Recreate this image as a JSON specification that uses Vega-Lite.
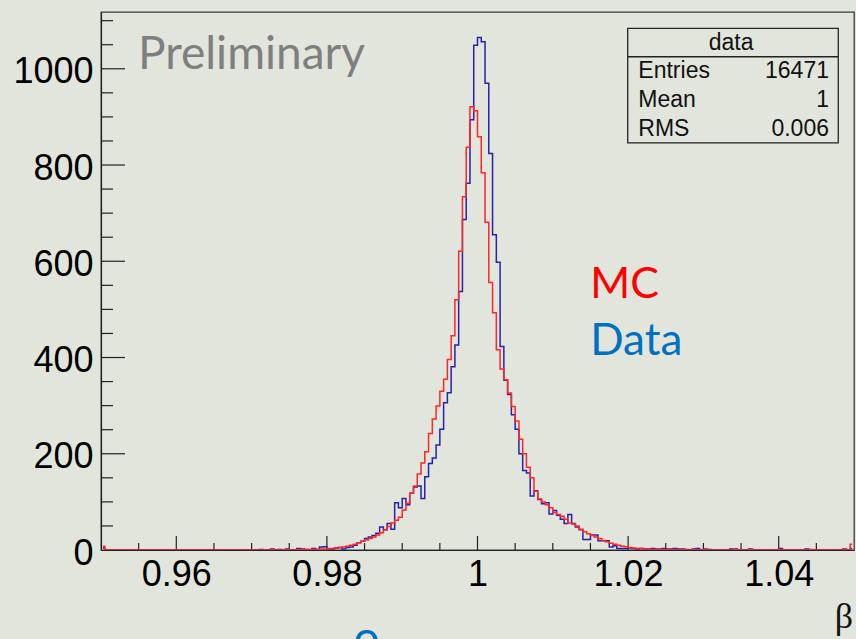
{
  "$schema": "https://vega.github.io/schema/vega-lite/v6.json",
  "width": 753,
  "height": 538,
  "autosize": {"type": "none"},
  "padding": {"left": 101, "top": 12, "right": 2, "bottom": 89},
  "background": "#e2e5dc",
  "config": {"view": {"stroke": "#3a3a3a", "strokeWidth": 1.3}, "font": "Liberation Sans"},
  "datasets": {
    "h": [
      {"b":0.95025,"Data":4,"MC":8},{"b":0.95075,"Data":0,"MC":0},{"b":0.95125,"Data":0,"MC":0},{"b":0.95175,"Data":0,"MC":0},{"b":0.95225,"Data":0,"MC":0},
      {"b":0.95275,"Data":0,"MC":0},{"b":0.95325,"Data":0,"MC":0},{"b":0.95375,"Data":0,"MC":0},{"b":0.95425,"Data":0,"MC":0},{"b":0.95475,"Data":0,"MC":0},
      {"b":0.95525,"Data":0,"MC":0},{"b":0.95575,"Data":0,"MC":0},{"b":0.95625,"Data":0,"MC":0},{"b":0.95675,"Data":0,"MC":0},{"b":0.95725,"Data":0,"MC":0},
      {"b":0.95775,"Data":0,"MC":0},{"b":0.95825,"Data":0,"MC":0},{"b":0.95875,"Data":0,"MC":0},{"b":0.95925,"Data":0,"MC":0},{"b":0.95975,"Data":0,"MC":0},
      {"b":0.96025,"Data":0,"MC":0},{"b":0.96075,"Data":0,"MC":0},{"b":0.96125,"Data":0,"MC":0},{"b":0.96175,"Data":0,"MC":0},{"b":0.96225,"Data":0,"MC":0},
      {"b":0.96275,"Data":0,"MC":0},{"b":0.96325,"Data":0,"MC":0},{"b":0.96375,"Data":0,"MC":0},{"b":0.96425,"Data":0,"MC":0},{"b":0.96475,"Data":0,"MC":0},
      {"b":0.96525,"Data":0,"MC":0},{"b":0.96575,"Data":0,"MC":0},{"b":0.96625,"Data":0,"MC":0},{"b":0.96675,"Data":0,"MC":0},{"b":0.96725,"Data":0,"MC":0},
      {"b":0.96775,"Data":0,"MC":0},{"b":0.96825,"Data":0,"MC":0},{"b":0.96875,"Data":0,"MC":0},{"b":0.96925,"Data":0,"MC":0},{"b":0.96975,"Data":0,"MC":0},
      {"b":0.97025,"Data":0,"MC":0},{"b":0.97075,"Data":0,"MC":0},{"b":0.97125,"Data":1,"MC":0},{"b":0.97175,"Data":0,"MC":0},{"b":0.97225,"Data":0,"MC":0},
      {"b":0.97275,"Data":2,"MC":1},{"b":0.97325,"Data":0,"MC":0},{"b":0.97375,"Data":1,"MC":0},{"b":0.97425,"Data":0,"MC":0},{"b":0.97475,"Data":2,"MC":1},
      {"b":0.97525,"Data":0,"MC":0},{"b":0.97575,"Data":0,"MC":0},{"b":0.97625,"Data":3,"MC":1},{"b":0.97675,"Data":2,"MC":1},{"b":0.97725,"Data":1,"MC":1},
      {"b":0.97775,"Data":0,"MC":1},{"b":0.97825,"Data":3,"MC":1},{"b":0.97875,"Data":1,"MC":1},{"b":0.97925,"Data":6,"MC":2},{"b":0.97975,"Data":7,"MC":2},
      {"b":0.98025,"Data":2,"MC":3},{"b":0.98075,"Data":2,"MC":3},{"b":0.98125,"Data":4,"MC":4},{"b":0.98175,"Data":5,"MC":5},{"b":0.98225,"Data":2,"MC":6},
      {"b":0.98275,"Data":5,"MC":8},{"b":0.98325,"Data":6,"MC":10},{"b":0.98375,"Data":10,"MC":12},{"b":0.98425,"Data":15,"MC":15},{"b":0.98475,"Data":18,"MC":18},
      {"b":0.98525,"Data":24,"MC":21},{"b":0.98575,"Data":27,"MC":24},{"b":0.98625,"Data":30,"MC":27},{"b":0.98675,"Data":35,"MC":31},{"b":0.98725,"Data":48,"MC":36},
      {"b":0.98775,"Data":42,"MC":42},{"b":0.98825,"Data":55,"MC":49},{"b":0.98875,"Data":43,"MC":56},{"b":0.98925,"Data":98,"MC":62},{"b":0.98975,"Data":88,"MC":68},
      {"b":0.99025,"Data":107,"MC":83},{"b":0.99075,"Data":94,"MC":97},{"b":0.99125,"Data":118,"MC":118},{"b":0.99175,"Data":131,"MC":133},{"b":0.99225,"Data":133,"MC":158},
      {"b":0.99275,"Data":107,"MC":181},{"b":0.99325,"Data":152,"MC":204},{"b":0.99375,"Data":180,"MC":242},{"b":0.99425,"Data":191,"MC":272},{"b":0.99475,"Data":218,"MC":299},
      {"b":0.99525,"Data":251,"MC":330},{"b":0.99575,"Data":306,"MC":355},{"b":0.99625,"Data":327,"MC":396},{"b":0.99675,"Data":381,"MC":445},{"b":0.99725,"Data":426,"MC":520},
      {"b":0.99775,"Data":537,"MC":621},{"b":0.99825,"Data":687,"MC":734},{"b":0.99875,"Data":762,"MC":837},{"b":0.99925,"Data":894,"MC":921},{"b":0.99975,"Data":1049,"MC":913},
      {"b":1.00025,"Data":1065,"MC":859},{"b":1.00075,"Data":1056,"MC":784},{"b":1.00125,"Data":970,"MC":681},{"b":1.00175,"Data":824,"MC":556},{"b":1.00225,"Data":655,"MC":493},
      {"b":1.00275,"Data":598,"MC":416},{"b":1.00325,"Data":423,"MC":376},{"b":1.00375,"Data":353,"MC":354},{"b":1.00425,"Data":323,"MC":326},{"b":1.00475,"Data":281,"MC":298},
      {"b":1.00525,"Data":251,"MC":268},{"b":1.00575,"Data":200,"MC":230},{"b":1.00625,"Data":165,"MC":200},{"b":1.00675,"Data":160,"MC":172},{"b":1.00725,"Data":112,"MC":150},
      {"b":1.00775,"Data":123,"MC":122},{"b":1.00825,"Data":105,"MC":106},{"b":1.00875,"Data":96,"MC":100},{"b":1.00925,"Data":98,"MC":94},{"b":1.00975,"Data":75,"MC":88},
      {"b":1.01025,"Data":82,"MC":78},{"b":1.01075,"Data":72,"MC":74},{"b":1.01125,"Data":64,"MC":70},{"b":1.01175,"Data":55,"MC":64},{"b":1.01225,"Data":74,"MC":56},
      {"b":1.01275,"Data":55,"MC":54},{"b":1.01325,"Data":48,"MC":50},{"b":1.01375,"Data":42,"MC":43},{"b":1.01425,"Data":22,"MC":38},{"b":1.01475,"Data":22,"MC":34},
      {"b":1.01525,"Data":31,"MC":30},{"b":1.01575,"Data":31,"MC":27},{"b":1.01625,"Data":19,"MC":24},{"b":1.01675,"Data":19,"MC":20},{"b":1.01725,"Data":19,"MC":17},
      {"b":1.01775,"Data":6,"MC":14},{"b":1.01825,"Data":9,"MC":12},{"b":1.01875,"Data":3,"MC":10},{"b":1.01925,"Data":3,"MC":8},{"b":1.01975,"Data":3,"MC":7},
      {"b":1.02025,"Data":4,"MC":5},{"b":1.02075,"Data":3,"MC":4},{"b":1.02125,"Data":2,"MC":3},{"b":1.02175,"Data":3,"MC":3},{"b":1.02225,"Data":2,"MC":2},
      {"b":1.02275,"Data":2,"MC":2},{"b":1.02325,"Data":3,"MC":1},{"b":1.02375,"Data":2,"MC":1},{"b":1.02425,"Data":2,"MC":1},{"b":1.02475,"Data":3,"MC":1},
      {"b":1.02525,"Data":2,"MC":1},{"b":1.02575,"Data":2,"MC":0},{"b":1.02625,"Data":3,"MC":1},{"b":1.02675,"Data":2,"MC":0},{"b":1.02725,"Data":2,"MC":1},
      {"b":1.02775,"Data":1,"MC":0},{"b":1.02825,"Data":0,"MC":0},{"b":1.02875,"Data":2,"MC":1},{"b":1.02925,"Data":3,"MC":0},{"b":1.02975,"Data":0,"MC":0},
      {"b":1.03025,"Data":2,"MC":1},{"b":1.03075,"Data":1,"MC":0},{"b":1.03125,"Data":0,"MC":0},{"b":1.03175,"Data":0,"MC":0},{"b":1.03225,"Data":0,"MC":0},
      {"b":1.03275,"Data":0,"MC":0},{"b":1.03325,"Data":0,"MC":0},{"b":1.03375,"Data":2,"MC":0},{"b":1.03425,"Data":2,"MC":1},{"b":1.03475,"Data":0,"MC":0},
      {"b":1.03525,"Data":0,"MC":0},{"b":1.03575,"Data":0,"MC":0},{"b":1.03625,"Data":2,"MC":1},{"b":1.03675,"Data":0,"MC":0},{"b":1.03725,"Data":0,"MC":0},
      {"b":1.03775,"Data":0,"MC":0},{"b":1.03825,"Data":0,"MC":0},{"b":1.03875,"Data":0,"MC":0},{"b":1.03925,"Data":0,"MC":0},{"b":1.03975,"Data":0,"MC":0},
      {"b":1.04025,"Data":3,"MC":1},{"b":1.04075,"Data":0,"MC":0},{"b":1.04125,"Data":0,"MC":0},{"b":1.04175,"Data":0,"MC":0},{"b":1.04225,"Data":0,"MC":0},
      {"b":1.04275,"Data":0,"MC":0},{"b":1.04325,"Data":0,"MC":0},{"b":1.04375,"Data":2,"MC":0},{"b":1.04425,"Data":0,"MC":1},{"b":1.04475,"Data":0,"MC":0},
      {"b":1.04525,"Data":0,"MC":0},{"b":1.04575,"Data":0,"MC":0},{"b":1.04625,"Data":0,"MC":0},{"b":1.04675,"Data":0,"MC":0},{"b":1.04725,"Data":0,"MC":0},
      {"b":1.04775,"Data":0,"MC":0},{"b":1.04825,"Data":0,"MC":0},{"b":1.04875,"Data":2,"MC":1},{"b":1.04925,"Data":0,"MC":0},{"b":1.04975,"Data":3,"MC":12}
    ],
    "ymaj": [{"v":200},{"v":400},{"v":600},{"v":800},{"v":1000}],
    "ymin": [{"v":50},{"v":100},{"v":150},{"v":250},{"v":300},{"v":350},{"v":450},{"v":500},{"v":550},{"v":650},{"v":700},{"v":750},{"v":850},{"v":900},{"v":950},{"v":1050},{"v":1100}],
    "xmaj": [{"v":0.96},{"v":0.98},{"v":1},{"v":1.02},{"v":1.04}],
    "xmin": [{"v":0.955},{"v":0.965},{"v":0.97},{"v":0.975},{"v":0.985},{"v":0.99},{"v":0.995},{"v":1.005},{"v":1.01},{"v":1.015},{"v":1.025},{"v":1.03},{"v":1.035},{"v":1.045}]
  },
  "layer": [
    {
      "data": {"name": "ymaj"},
      "mark": {"type": "rule", "stroke": "#222", "strokeWidth": 1.2},
      "encoding": {"y": {"field": "v", "type": "quantitative"}, "x": {"datum": 0.95}, "x2": {"datum": 0.953187}}
    },
    {
      "data": {"name": "ymin"},
      "mark": {"type": "rule", "stroke": "#222", "strokeWidth": 1.2},
      "encoding": {"y": {"field": "v", "type": "quantitative"}, "x": {"datum": 0.95}, "x2": {"datum": 0.951594}}
    },
    {
      "data": {"name": "xmaj"},
      "mark": {"type": "rule", "stroke": "#222", "strokeWidth": 1.2},
      "encoding": {"x": {"field": "v", "type": "quantitative"}, "y": {"datum": 0}, "y2": {"datum": 29}}
    },
    {
      "data": {"name": "xmin"},
      "mark": {"type": "rule", "stroke": "#222", "strokeWidth": 1.2},
      "encoding": {"x": {"field": "v", "type": "quantitative"}, "y": {"datum": 0}, "y2": {"datum": 14.5}}
    },
    {
      "data": {"name": "h"},
      "mark": {"type": "line", "interpolate": "step", "stroke": "#2323b0", "strokeWidth": 1.5, "clip": true},
      "encoding": {
        "x": {"field": "b", "type": "quantitative", "scale": {"domain": [0.95, 1.05], "nice": false, "zero": false},
              "axis": {"orient": "bottom", "values": [0.96, 0.98, 1, 1.02, 1.04], "format": "~g", "ticks": false, "labelPadding": 7,
                       "labelFontSize": 36, "labelFont": "Liberation Sans", "labelColor": "#000", "domainColor": "#222", "domainWidth": 1.2,
                       "grid": false, "title": null, "labelFlush": false, "labelOverlap": false, "labelBound": false}},
        "y": {"field": "Data", "type": "quantitative", "scale": {"domain": [0, 1118], "nice": false, "zero": false},
              "axis": {"orient": "left", "values": [0, 200, 400, 600, 800, 1000], "format": "d", "ticks": false, "labelPadding": 8, "labelOffset": 3,
                       "labelFontSize": 36, "labelFont": "Liberation Sans", "labelColor": "#000", "domainColor": "#222", "domainWidth": 1.2,
                       "grid": false, "title": null, "labelFlush": false, "labelOverlap": false, "labelBound": false}}
      }
    },
    {
      "data": {"name": "h"},
      "mark": {"type": "line", "interpolate": "step", "stroke": "#ff2626", "strokeWidth": 1.5, "clip": true},
      "encoding": {
        "x": {"field": "b", "type": "quantitative"},
        "y": {"field": "MC", "type": "quantitative"}
      }
    },
    {
      "data": {"values": [{}]},
      "mark": {"type": "text", "text": "Preliminary", "font": "Lato", "fontSize": 46, "color": "#7f7f7f", "align": "left", "baseline": "alphabetic"},
      "encoding": {"x": {"datum": 0.95491}, "y": {"datum": 999}}
    },
    {
      "data": {"values": [{}]},
      "mark": {"type": "text", "text": "MC", "font": "Lato", "fontSize": 43, "color": "#ff0000", "align": "left", "baseline": "alphabetic"},
      "encoding": {"x": {"datum": 1.01497}, "y": {"datum": 524}}
    },
    {
      "data": {"values": [{}]},
      "mark": {"type": "text", "text": "Data", "font": "Lato", "fontSize": 44, "color": "#0070c0", "align": "left", "baseline": "alphabetic"},
      "encoding": {"x": {"datum": 1.01497}, "y": {"datum": 405}}
    },
    {
      "data": {"values": [{}]},
      "mark": {"type": "rect", "fillOpacity": 0, "stroke": "#222", "strokeWidth": 1.3},
      "encoding": {"x": {"datum": 1.01995}, "x2": {"datum": 1.04791}, "y": {"datum": 1084}, "y2": {"datum": 846}}
    },
    {
      "data": {"values": [{}]},
      "mark": {"type": "rule", "stroke": "#222", "strokeWidth": 1.3},
      "encoding": {"x": {"datum": 1.01995}, "x2": {"datum": 1.04791}, "y": {"datum": 1025}}
    },
    {
      "data": {"values": [{}]},
      "mark": {"type": "text", "text": "data", "font": "Liberation Sans", "fontSize": 23, "color": "#111", "align": "center", "baseline": "alphabetic"},
      "encoding": {"x": {"datum": 1.03367}, "y": {"datum": 1039}}
    },
    {
      "data": {"values": [{}]},
      "mark": {"type": "text", "text": "Entries", "font": "Liberation Sans", "fontSize": 23, "color": "#111", "align": "left", "baseline": "alphabetic"},
      "encoding": {"x": {"datum": 1.02136}, "y": {"datum": 980}}
    },
    {
      "data": {"values": [{}]},
      "mark": {"type": "text", "text": "Mean", "font": "Liberation Sans", "fontSize": 23, "color": "#111", "align": "left", "baseline": "alphabetic"},
      "encoding": {"x": {"datum": 1.02136}, "y": {"datum": 920}}
    },
    {
      "data": {"values": [{}]},
      "mark": {"type": "text", "text": "RMS", "font": "Liberation Sans", "fontSize": 23, "color": "#111", "align": "left", "baseline": "alphabetic"},
      "encoding": {"x": {"datum": 1.02136}, "y": {"datum": 861}}
    },
    {
      "data": {"values": [{}]},
      "mark": {"type": "text", "text": "16471", "font": "Liberation Sans", "fontSize": 23, "color": "#111", "align": "right", "baseline": "alphabetic"},
      "encoding": {"x": {"datum": 1.04668}, "y": {"datum": 980}}
    },
    {
      "data": {"values": [{}]},
      "mark": {"type": "text", "text": "1", "font": "Liberation Sans", "fontSize": 23, "color": "#111", "align": "right", "baseline": "alphabetic"},
      "encoding": {"x": {"datum": 1.04668}, "y": {"datum": 920}}
    },
    {
      "data": {"values": [{}]},
      "mark": {"type": "text", "text": "0.006", "font": "Liberation Sans", "fontSize": 23, "color": "#111", "align": "right", "baseline": "alphabetic"},
      "encoding": {"x": {"datum": 1.04668}, "y": {"datum": 861}}
    },
    {
      "data": {"values": [{}]},
      "mark": {"type": "text", "text": "β", "font": "Liberation Serif", "fontSize": 36, "color": "#111", "align": "right", "baseline": "alphabetic"},
      "encoding": {"x": {"datum": 1.04987}, "y": {"datum": -162}}
    },
    {
      "data": {"values": [{}]},
      "mark": {"type": "text", "text": "o", "font": "Lato", "fontSize": 46, "color": "#0070c0", "align": "center", "baseline": "alphabetic"},
      "encoding": {"x": {"datum": 0.98526}, "y": {"datum": -216}}
    }
  ]
}
